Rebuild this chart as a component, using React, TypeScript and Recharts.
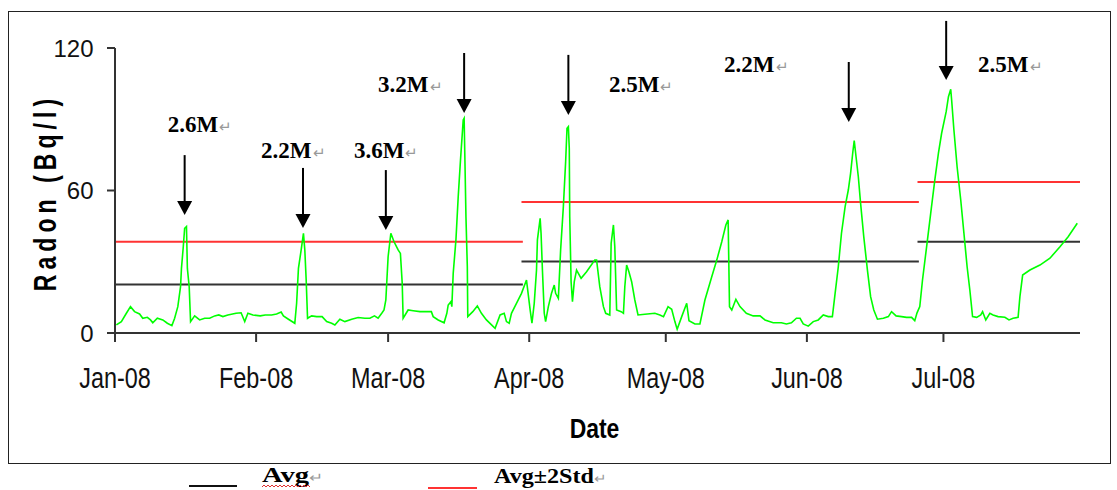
import React from "react";
import {
  LineChart,
  Line,
  XAxis,
  YAxis,
  ReferenceLine,
  ReferenceDot,
} from "recharts";

// day of year (0 = 1 Jan 2008) and radon concentration (Bq/l)
const days = [
  0.3, 1.4, 2.5, 3.4, 4.3, 5.4, 6.1, 7.1, 7.8, 8.3, 9.3, 10.5, 11.5, 12.5, 13.1, 13.8, 14.4, 14.6, 15.0, 15.3,
  15.7, 15.9, 16.3, 16.6, 17.5, 18.6, 19.7, 20.8, 21.9, 22.8, 23.7, 24.8, 26.6, 27.7, 28.5, 29.2, 30.3, 31.9,
  33.0, 34.4, 35.5, 36.5, 37.0, 38.1, 39.5, 39.9, 40.3, 40.9, 41.4, 41.7, 42.0, 42.3, 43.2, 44.3, 45.5, 46.5,
  47.6, 48.3, 49.4, 50.5, 52.0, 53.4, 54.9, 56.0, 57.0, 57.8, 58.6, 59.1, 59.5, 60.0, 60.6, 61.3, 62.2, 62.7,
  63.1, 63.3, 64.4, 65.5, 67.0, 68.4, 69.5, 69.9, 71.0, 72.3, 72.9, 73.2, 73.8, 74.0, 74.3, 74.9, 75.4, 75.9,
  76.5, 76.7, 76.9, 77.1, 77.4, 77.5, 78.6, 79.6, 80.5, 81.6, 83.5, 84.6, 85.5, 86.0, 86.6, 87.1, 88.2, 89.3,
  90.4, 91.2, 91.6, 92.1, 92.6, 92.8, 93.4, 93.6, 93.9, 94.3, 94.6, 95.2, 95.9, 96.5, 96.8, 97.4, 97.9, 98.5,
  99.0, 99.3, 99.6, 99.8, 99.9, 100.2, 100.5, 100.9, 101.4, 102.4, 103.6, 105.4, 105.8, 106.5, 107.3, 107.8,
  108.7, 109.0, 109.5, 109.8, 110.2, 111.2, 111.7, 112.0, 112.4, 112.9, 113.5, 114.2, 114.9, 116.4, 118.6,
  119.7, 120.5, 121.5, 122.3, 123.0, 123.5, 124.5, 125.6, 126.1, 127.4, 128.5, 129.6, 131.1, 132.2, 133.3,
  134.2, 134.7, 135.0, 135.5, 136.4, 137.3, 138.7, 140.2, 141.7, 142.8, 144.6, 146.4, 147.5, 148.6, 149.7,
  150.5, 151.2, 152.3, 153.4, 154.5, 155.6, 156.7, 157.6, 158.2, 158.9, 159.6, 160.4, 161.1, 161.6, 162.1,
  162.4, 162.8, 163.3, 163.8, 164.5, 165.3, 166.0, 166.7, 167.5, 168.8, 169.9, 170.6, 171.6, 172.8, 173.9,
  175.0, 175.7, 176.2, 176.8, 177.4, 178.3, 179.2, 180.1, 180.9, 181.6, 182.6, 183.1, 183.6, 183.8, 184.3,
  185.0, 185.8, 186.5, 187.2, 187.8, 188.4, 189.3, 190.2, 190.6, 191.3, 192.2, 192.9, 194.0, 195.5, 196.4,
  197.3, 198.4, 198.8, 199.4, 201.0, 203.2, 205.4, 207.6, 209.4, 211.4,
];

const radon = [
  3.4, 4.8, 8.3, 11.1, 9.0, 8.0, 6.2, 6.6, 5.5, 4.3, 6.2, 5.5, 4.1, 3.1, 6.2, 11.1, 19.5, 27.2, 36.3, 44.1,
  44.8, 27.2, 19.5, 4.8, 7.2, 5.5, 6.2, 6.2, 7.2, 7.6, 6.9, 7.6, 8.3, 8.5, 4.8, 8.3, 7.6, 7.2,
  7.6, 7.6, 8.0, 8.8, 7.2, 5.8, 4.1, 12.5, 27.2, 35.0, 42.0, 35.0, 22.3, 6.2, 7.2, 6.9, 6.9, 4.8,
  4.1, 3.4, 5.8, 4.8, 5.8, 6.5, 6.2, 6.2, 7.2, 6.2, 8.3, 9.7, 13.9, 32.1, 42.0, 38.4, 35.0, 33.5,
  20.9, 6.2, 9.7, 9.4, 9.0, 9.0, 9.0, 6.9, 5.5, 4.3, 8.3, 11.8, 13.2, 11.1, 25.1, 39.2, 57.4, 72.8,
  89.7, 90.4, 70.0, 49.0, 27.9, 6.9, 9.0, 11.4, 8.3, 5.5, 2.0, 7.6, 8.3, 4.8, 4.1, 8.3, 12.5, 16.7,
  22.3, 9.7, 4.1, 12.5, 26.5, 39.2, 48.3, 42.0, 26.5, 8.3, 4.8, 11.1, 16.7, 20.2, 16.7, 14.6, 35.0, 53.2,
  72.1, 86.2, 86.9, 77.8, 49.0, 21.6, 13.2, 21.6, 26.5, 23.0, 25.8, 30.7, 30.7, 19.5, 11.1, 8.3,
  7.6, 37.8, 45.5, 36.3, 9.7, 9.0, 8.3, 19.5, 28.6, 25.8, 21.6, 13.9, 7.6, 7.9, 8.3,
  7.6, 6.9, 11.1, 10.0, 4.8, 1.6, 6.9, 12.5, 5.2, 3.8, 3.8, 13.9, 23.7, 30.7, 38.4,
  45.5, 47.6, 11.1, 9.7, 14.2, 11.1, 8.3, 7.2, 7.2, 5.5, 4.3, 4.3, 3.8, 4.3, 6.2,
  6.2, 3.8, 2.9, 4.8, 5.5, 7.6, 6.9, 6.9, 16.7, 27.9, 42.0, 53.2, 60.2, 67.2, 76.3,
  81.0, 74.2, 65.8, 54.6, 40.5, 26.5, 15.3, 9.7, 5.8, 6.2, 6.9, 9.0, 7.2, 6.9, 6.6,
  6.6, 5.2, 8.5, 11.1, 22.3, 36.3, 50.4, 64.4, 75.7, 84.1, 93.2, 99.5, 102.6, 98.1, 85.5,
  70.0, 56.0, 42.0, 27.9, 18.1, 6.9, 6.6, 7.6, 9.0, 5.5, 8.3, 7.6, 6.9, 6.6, 5.5,
  6.2, 6.6, 15.3, 24.4, 26.5, 28.6, 31.5, 36.3, 40.5, 46.2,
];

const monthTicks = [0, 31, 60, 91, 121, 152, 182];
const monthLabels = ["Jan-08", "Feb-08", "Mar-08", "Apr-08", "May-08", "Jun-08", "Jul-08"];
const yTicks = [0, 60, 120];

// three periods, each with its own average and average + 2 std
const periodStart = [0, 89.3, 176.3];
const periodEnd = [89.6, 176.6, 212];
const avgValues = [20.4, 30.1, 38.4];
const upperValues = [38.4, 55.2, 63.6];

// earthquake markers: arrow day, arrow top, arrow tip, label position
const quakeLabels = ["2.6M", "2.2M", "3.6M", "3.2M", "2.5M", "2.2M", "2.5M"];
const quakeDays = [15.3, 41.3, 59.5, 76.7, 99.6, 161.2, 182.6];
const arrowTops = [74.9, 69.5, 68.6, 117.9, 117.1, 114.1, 131.4];
const arrowTips = [49.7, 44.2, 43.4, 92.6, 91.8, 88.8, 106.5];
const labelDays = [11.6, 32.1, 52.5, 57.8, 108.5, 133.8, 189.6];
const labelValues = [84.6, 73.7, 73.7, 101.5, 101.5, 109.9, 109.9];

const radonData = days.map((day, i) => ({ day, radon: radon[i] }));

const SANS = "'Liberation Sans', Arial, sans-serif";
const SERIF = "'Liberation Serif', 'Times New Roman', serif";

function MonthTick(props: any) {
  const { x, y, payload } = props;
  const idx = monthTicks.indexOf(payload.value);
  return (
    <g transform={`translate(${x},${y})`}>
      <text
        x={0}
        y={46}
        textAnchor="middle"
        transform="scale(0.78,1)"
        fontFamily={SANS}
        fontSize={30}
        fill="#111"
      >
        {monthLabels[idx]}
      </text>
    </g>
  );
}

function ValueTick(props: any) {
  const { x, y, payload } = props;
  return (
    <text
      x={x}
      y={y}
      dy="0.36em"
      textAnchor="end"
      fontFamily={SANS}
      fontSize={24}
      fill="#111"
    >
      {payload.value}
    </text>
  );
}

function ArrowShape(props: any) {
  const { x1, y1, x2, y2 } = props;
  const head = 14;
  return (
    <g>
      <line x1={x1} y1={y1} x2={x2} y2={y2 - head + 1} stroke="#000" strokeWidth={2} />
      <polygon
        points={`${x2 - 7.5},${y2 - head} ${x2 + 7.5},${y2 - head} ${x2},${y2}`}
        fill="#000"
      />
    </g>
  );
}

function quakeText(label: string) {
  return (props: any) => (
    <text x={props.cx} y={props.cy} fontFamily={SERIF} fontWeight="bold" fontSize={23} fill="#000">
      {label}
      <tspan fill="#999" fontWeight="normal" fontSize={15} dx={1}>
        ↵
      </tspan>
    </text>
  );
}

export default function App() {
  return (
    <div
      style={{
        position: "absolute",
        left: 0,
        top: 0,
        width: 1117,
        height: 490,
        overflow: "hidden",
        background: "#fff",
      }}
    >
      <div
        style={{
          position: "absolute",
          left: 8,
          top: 11,
          width: 1101,
          height: 451,
          border: "1.5px solid #222",
        }}
      />
      <div style={{ position: "absolute", left: 0, top: 0 }}>
        <LineChart
          width={1117}
          height={450}
          data={radonData}
          margin={{ top: 48, right: 37, bottom: 7, left: 15 }}
        >
          <XAxis
            dataKey="day"
            type="number"
            domain={[0, 212]}
            ticks={monthTicks}
            tick={<MonthTick />}
            tickSize={9}
            tickMargin={0}
            height={110}
            axisLine={{ stroke: "#333", strokeWidth: 2 }}
            tickLine={{ stroke: "#333", strokeWidth: 2 }}
            label={(p: any) => {
              const vb = p.viewBox;
              const cx = vb.x + vb.width / 2 - 3;
              return (
                <g transform={`translate(${cx},${vb.y + 105})`}>
                  <text
                    textAnchor="middle"
                    transform="scale(0.82,1)"
                    fontFamily={SANS}
                    fontWeight="bold"
                    fontSize={28}
                    fill="#000"
                  >
                    Date
                  </text>
                </g>
              );
            }}
          />
          <YAxis
            type="number"
            domain={[0, 120]}
            ticks={yTicks}
            tick={<ValueTick />}
            tickSize={8}
            tickMargin={13.5}
            width={100}
            axisLine={{ stroke: "#333", strokeWidth: 2 }}
            tickLine={{ stroke: "#333", strokeWidth: 2 }}
            label={(p: any) => {
              const vb = p.viewBox;
              const cx = vb.x + 41;
              const cy = vb.y + vb.height / 2 + 2;
              return (
                <g transform={`translate(${cx},${cy}) rotate(-90)`}>
                  <text
                    textAnchor="middle"
                    transform="scale(0.72,1)"
                    fontFamily={SANS}
                    fontWeight="bold"
                    fontSize={32}
                    letterSpacing={7}
                    fill="#000"
                  >
                    Radon (Bq/l)
                  </text>
                </g>
              );
            }}
          />
          {periodStart.map((s, i) => (
            <ReferenceLine
              key={`avg${i}`}
              segment={[
                { x: s, y: avgValues[i] },
                { x: periodEnd[i], y: avgValues[i] },
              ]}
              stroke="#333"
              strokeWidth={2}
              ifOverflow="visible"
            />
          ))}
          {periodStart.map((s, i) => (
            <ReferenceLine
              key={`up${i}`}
              segment={[
                { x: s, y: upperValues[i] },
                { x: periodEnd[i], y: upperValues[i] },
              ]}
              stroke="#ff3333"
              strokeWidth={2}
              ifOverflow="visible"
            />
          ))}
          <Line
            dataKey="radon"
            type="linear"
            stroke="#00ff00"
            strokeWidth={1.6}
            dot={false}
            isAnimationActive={false}
          />
          {quakeDays.map((d, i) => (
            <ReferenceLine
              key={`arrow${i}`}
              segment={[
                { x: d, y: arrowTops[i] },
                { x: d, y: arrowTips[i] },
              ]}
              ifOverflow="visible"
              shape={<ArrowShape />}
            />
          ))}
          {quakeLabels.map((label, i) => (
            <ReferenceDot
              key={`lbl${i}`}
              x={labelDays[i]}
              y={labelValues[i]}
              r={0}
              ifOverflow="visible"
              shape={quakeText(label)}
            />
          ))}
        </LineChart>
      </div>
      <svg
        width={1117}
        height={28}
        style={{ position: "absolute", left: 0, top: 462 }}
      >
        <line x1={189} y1={24} x2={237} y2={24} stroke="#111" strokeWidth={2} />
        <g transform="translate(262,20)">
          <text transform="scale(1.3,1)" fontFamily={SERIF} fontWeight="bold" fontSize={22} fill="#000">
            Avg
            <tspan fill="#999" fontWeight="normal" fontSize={13}>↵</tspan>
          </text>
        </g>
        <path
          d="M262,25 l2,-2 l2,2 l2,-2 l2,2 l2,-2 l2,2 l2,-2 l2,2 l2,-2 l2,2 l2,-2 l2,2 l2,-2 l2,2 l2,-2 l2,2 l2,-2 l2,2 l2,-2 l2,2 l2,-2 l2,2 l2,-2 l2,2"
          fill="none"
          stroke="#e03030"
          strokeWidth={1}
        />
        <line x1={428} y1={26} x2={477} y2={26} stroke="#ff3333" strokeWidth={2} />
        <g transform="translate(494,21)">
          <text transform="scale(1.15,1)" fontFamily={SERIF} fontWeight="bold" fontSize={21} fill="#000">
            Avg±2Std
            <tspan fill="#999" fontWeight="normal" fontSize={13}>↵</tspan>
          </text>
        </g>
      </svg>
    </div>
  );
}
